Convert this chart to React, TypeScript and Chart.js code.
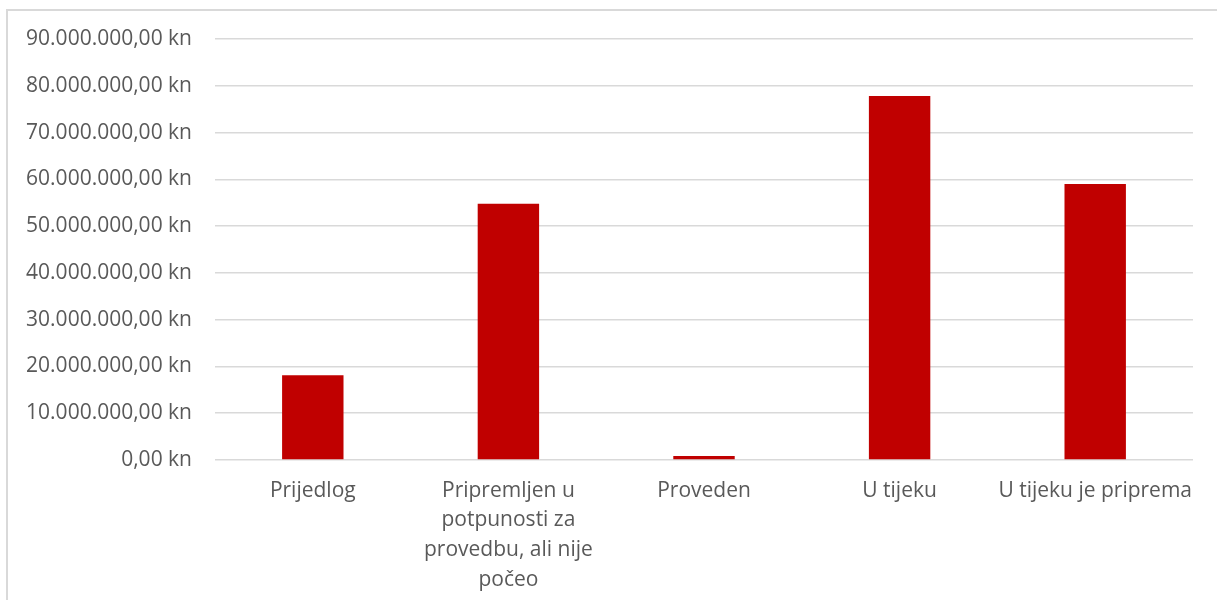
import React, { useEffect, useRef } from "react";
import { Chart, registerables } from "chart.js";

Chart.register(...registerables);

const categories: string[][] = [
  ["Prijedlog"],
  ["Pripremljen u", "potpunosti za", "provedbu, ali nije", "počeo"],
  ["Proveden"],
  ["U tijeku"],
  ["U tijeku je priprema"],
];

const values: number[] = [18100000, 54800000, 860000, 77800000, 59000000];

const yMin = 0;
const yMax = 90000000;
const yStep = 10000000;

function formatKn(v: number): string {
  const fixed = Math.abs(v).toFixed(2);
  const [intPart, dec] = fixed.split(".");
  const withDots = intPart.replace(/\B(?=(\d{3})+(?!\d))/g, ".");
  return (v < 0 ? "-" : "") + withDots + "," + dec + " kn";
}

export default function App() {
  const canvasRef = useRef<HTMLCanvasElement | null>(null);

  useEffect(() => {
    if (!canvasRef.current) return;
    const font = { family: "'Open Sans', 'Noto Sans', sans-serif", size: 21 };
    const chart = new Chart(canvasRef.current, {
      type: "bar",
      data: {
        labels: categories,
        datasets: [
          {
            data: values,
            backgroundColor: "#C00000",
            borderWidth: 0,
            categoryPercentage: 1,
            barPercentage: 0.314,
          },
        ],
      },
      options: {
        responsive: false,
        animation: false,
        devicePixelRatio: 1,
        layout: { padding: { top: 28, right: 24, bottom: 0, left: 0 } },
        plugins: {
          legend: { display: false },
          tooltip: { enabled: false },
        },
        scales: {
          x: {
            grid: { display: false, drawTicks: false },
            border: { display: false },
            ticks: {
              color: "#595959",
              font: { ...font, lineHeight: 1.41 },
              padding: 16,
              maxRotation: 0,
              autoSkip: false,
            },
            afterFit: (scale: any) => {
              scale.height = 140;
              scale.paddingLeft = 0;
              scale.paddingRight = 0;
            },
          },
          y: {
            min: yMin,
            max: yMax,
            grid: { color: "#d9d9d9", lineWidth: 1.5, drawTicks: false },
            border: { display: false },
            ticks: {
              stepSize: yStep,
              color: "#595959",
              font,
              padding: 23,
              callback: (v: any) => formatKn(Number(v)),
            },
            afterFit: (scale: any) => {
              scale.width = 207;
              scale.paddingTop = 0;
              scale.paddingBottom = 0;
            },
          },
        },
      },
    });
    return () => chart.destroy();
  }, []);

  return (
    <div
      style={{
        position: "absolute",
        left: 6,
        top: 9,
        width: 1209,
        height: 589,
        borderTop: "2px solid #d9d9d9",
        borderLeft: "2px solid #d9d9d9",
        overflow: "hidden",
        background: "#fff",
      }}
    >
      <canvas ref={canvasRef} width={1209} height={589} style={{ display: "block" }} />
    </div>
  );
}
